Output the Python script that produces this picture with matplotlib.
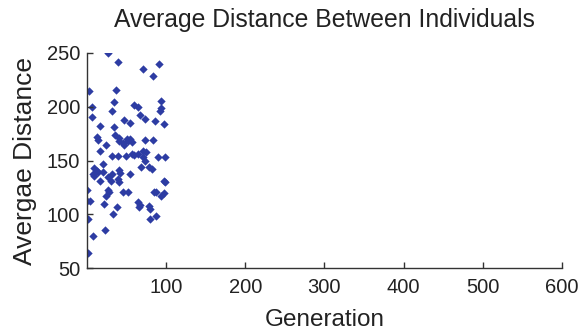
import matplotlib.pyplot as plt

# generation number and average distance
generation = [27, 39, 71, 83, 91, 3, 37, 6, 34, 32, 6, 60, 64, 93, 93, 92,
              67, 73, 86, 97, 47, 54, 16, 34, 35, 12, 14, 40, 41, 50, 52,
              54, 57, 45, 47, 73, 83, 24, 17, 31, 39, 49, 57, 60, 64, 71,
              75, 71, 73, 90, 99, 20, 68, 78, 82, 9, 13, 14, 7, 9, 20, 41,
              42, 27, 30, 31, 39, 41, 54, 17, 97, 99, 26, 28, 24, 0.5, 45,
              52, 85, 87, 97, 94, 0.5, 4, 21, 64, 67, 66, 78, 80, 38, 33,
              80, 87, 1, 23, 8, 1]
avg_distance = [250, 242, 235, 229, 240, 215, 216, 200, 204, 196, 190, 202,
                200, 205, 199, 196, 192, 189, 187, 184, 188, 185, 182, 181,
                174, 172, 169, 171, 168, 170, 168, 170, 167, 166, 164, 169,
                169, 164, 159, 154, 154, 154, 156, 155, 156, 159, 158, 153,
                150, 153, 153, 147, 144, 144, 142, 143, 140, 139, 137, 136,
                139, 141, 138, 135, 131, 137, 133, 130, 137, 131, 131, 130,
                123, 121, 117, 123, 121, 121, 121, 121, 120, 117, 112, 112,
                110, 111, 109, 107, 108, 105, 107, 100, 96, 98, 96, 85, 80, 64]

x_ticks = [100, 200, 300, 400, 500, 600]
y_ticks = [50, 100, 150, 200, 250]

plt.rcParams['font.family'] = ['Liberation Sans', 'DejaVu Sans']
text_color = '#222222'

fig = plt.figure(figsize=(5.84, 3.33), dpi=100)
ax = fig.add_axes([0.149, 0.195, 0.813, 0.646])

ax.scatter(generation, avg_distance, marker='D', s=18, color='#2d3ca3',
           linewidths=0)

ax.set_xlim(0, 600)
ax.set_ylim(50, 250)
ax.set_xticks(x_ticks)
ax.set_yticks(y_ticks)

for side in ['top', 'right']:
    ax.spines[side].set_visible(False)
for side in ['left', 'bottom']:
    ax.spines[side].set_linewidth(1.0)
    ax.spines[side].set_color('#333333')

ax.tick_params(direction='in', length=4, width=1, colors='#333333',
               labelcolor=text_color, labelsize=14.5)
ax.tick_params(axis='x', pad=7)
ax.tick_params(axis='y', pad=5)

ax.set_title('Average Distance Between Individuals', fontsize=17.8,
             color=text_color, pad=19)
ax.set_xlabel('Generation', fontsize=17.5, color=text_color, labelpad=9)
ax.set_ylabel('Avergae Distance', fontsize=19, color=text_color, labelpad=7)

fig.savefig('out.png', dpi=100)
